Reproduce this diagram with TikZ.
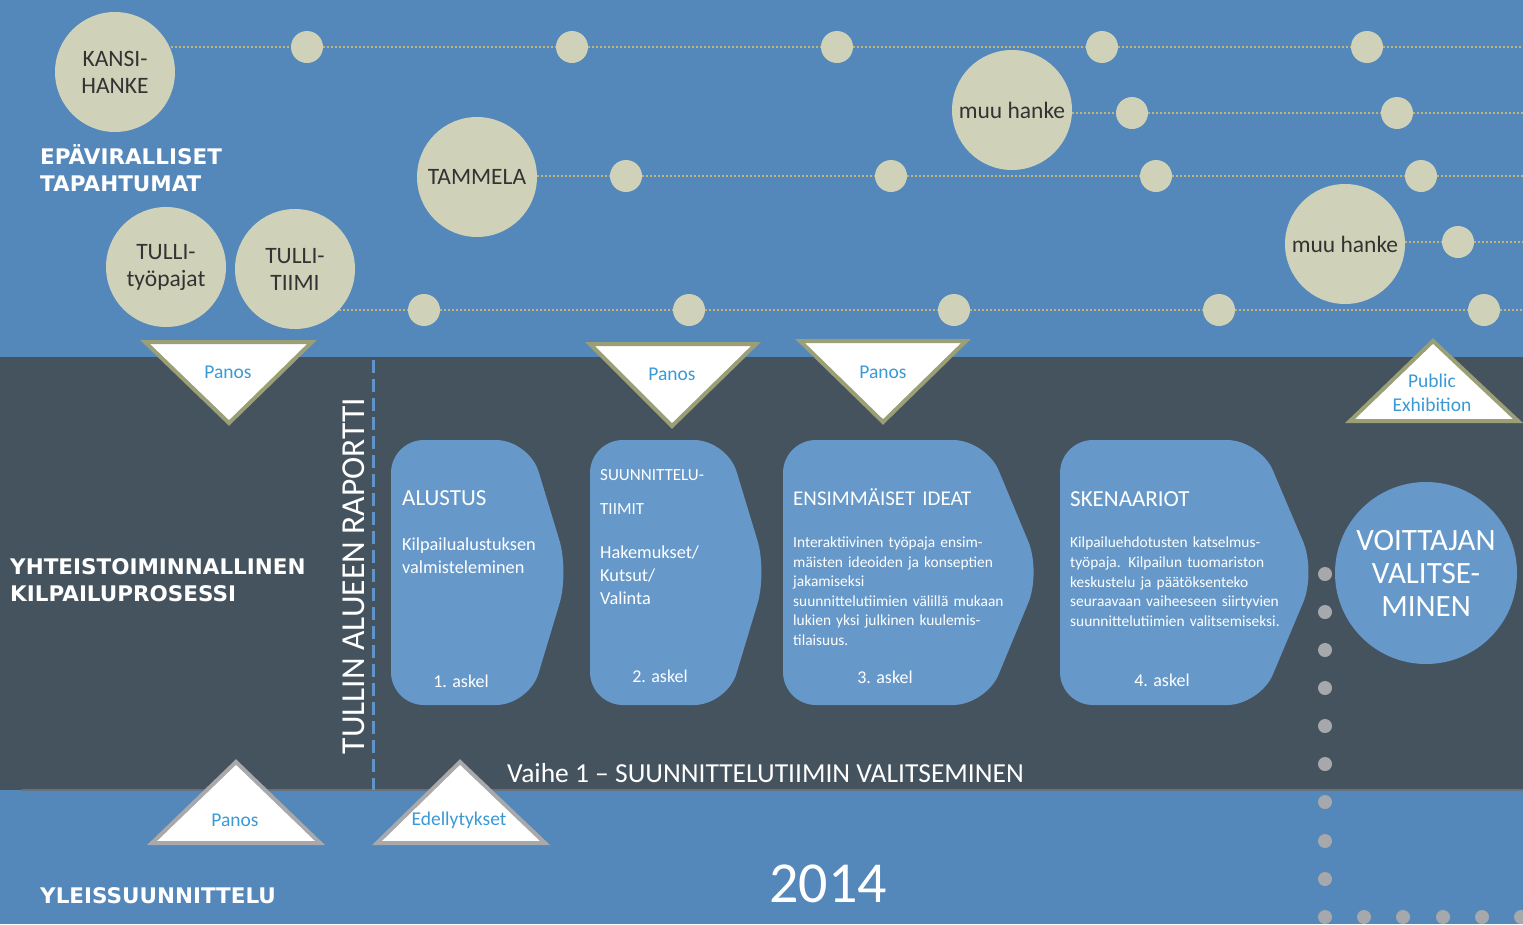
\documentclass[tikz,border=0pt]{standalone}
\usepackage{fontspec}
\setmainfont{Carlito}
\newfontfamily\headfont{DejaVu Sans}
\definecolor{skyblue}{HTML}{5487BA}
\definecolor{darkband}{HTML}{45535F}
\definecolor{bandline}{HTML}{66717B}
\definecolor{boxblue}{HTML}{6699CA}
\definecolor{beige}{HTML}{CFD1B8}
\definecolor{olive}{HTML}{9B9F76}
\definecolor{trigray}{HTML}{A9A9AC}
\definecolor{labelblue}{HTML}{3B9AD6}
\definecolor{dotgray}{HTML}{A6A8AC}
\definecolor{dotline}{HTML}{BFB577}
\definecolor{circtext}{HTML}{333333}
\definecolor{dashblue}{HTML}{5F93C9}
\newcommand\myfs[2]{\fontsize{#1}{#2}\selectfont}
\pgfdeclarelayer{bg}
\pgfdeclarelayer{lines}
\pgfsetlayers{bg,lines,main}
\tikzset{
  bigc/.style={circle, fill=beige, minimum size=120pt, inner sep=0pt, align=center, text=circtext, font=\myfs{23.5}{27}},
  smalldot/.style={circle, fill=beige, minimum size=32pt, inner sep=0pt},
  graydot/.style={circle, fill=dotgray, minimum size=14pt, inner sep=0pt},
  dotrow/.style={draw=dotline, line width=1.7pt, dash pattern=on 1.6pt off 2.4pt},
  tridown/.style={fill=white, draw=olive, line width=4pt, line join=miter},
  triup/.style={fill=white, draw=trigray, line width=4pt, line join=miter},
  trilabel/.style={text=labelblue, font=\myfs{19.5}{24}, align=center, inner sep=0pt},
  stepbox/.style={fill=boxblue, rounded corners=33pt},
  headlabel/.style={font=\headfont\bfseries\myfs{21.5}{27}, text=white, anchor=base west, align=left, text width=330pt, inner sep=0pt},
  boxhead/.style={text=white, anchor=base west, align=left, text width=240pt, inner sep=0pt},
  boxbody/.style={text=white, anchor=base west, align=left, text width=240pt, inner sep=0pt},
  stepno/.style={text=white, font=\myfs{18}{22}, inner sep=0pt},
}
\begin{document}
\begin{tikzpicture}[x=1pt,y=-1pt]
\useasboundingbox (0,0) rectangle (1523,924);
\begin{pgfonlayer}{bg}
  \fill[skyblue] (0,0) rectangle (1523,924);
  \fill[darkband] (0,357) rectangle (1523,790);
  \draw[bandline, line width=1.5pt] (22,790) -- (1523,790);
  \draw[dashblue, line width=3pt, dash pattern=on 13pt off 6pt] (373,360) -- (373,790);
\end{pgfonlayer}

% big circles
\node[bigc] (kansi) at (115,72) {KANSI-\\HANKE};
\node[bigc] (tammela) at (477,177) {TAMMELA};
\node[bigc] (tpajat) at (166,267) {TULLI-\\työpajat};
\node[bigc] (tiimi) at (295,269) {TULLI-\\TIIMI};
\node[bigc] (muua) at (1012,110) {muu hanke};
\node[bigc] (muub) at (1345,244) {muu hanke};

% small dots
\node[smalldot] (r1a) at (307,47) {};
\node[smalldot] (r1b) at (572,47) {};
\node[smalldot] (r1c) at (837,47) {};
\node[smalldot] (r1d) at (1102,47) {};
\node[smalldot] (r1e) at (1367,47) {};
\node[smalldot] (r2a) at (1132,113) {};
\node[smalldot] (r2b) at (1397,113) {};
\node[smalldot] (r3a) at (626,176) {};
\node[smalldot] (r3b) at (891,176) {};
\node[smalldot] (r3c) at (1156,176) {};
\node[smalldot] (r3d) at (1421,176) {};
\node[smalldot] (r4a) at (1458,242) {};
\node[smalldot] (r5a) at (424,310) {};
\node[smalldot] (r5b) at (689,310) {};
\node[smalldot] (r5c) at (954,310) {};
\node[smalldot] (r5d) at (1219,310) {};
\node[smalldot] (r5e) at (1484,310) {};

\coordinate (e1) at (1523,47);
\coordinate (e2) at (1523,113);
\coordinate (e3) at (1523,176);
\coordinate (e4) at (1523,242);
\coordinate (e5) at (1523,310);

\begin{pgfonlayer}{lines}
  \draw[dotrow] (kansi.center |- r1a) -- (r1a) -- (r1b) -- (r1c) -- (r1d) -- (r1e) -- (e1);
  \draw[dotrow] (muua.center |- r2a) -- (r2a) -- (r2b) -- (e2);
  \draw[dotrow] (tammela.center |- r3a) -- (r3a) -- (r3b) -- (r3c) -- (r3d) -- (e3);
  \draw[dotrow] (muub.center |- r4a) -- (r4a) -- (e4);
  \draw[dotrow] (tiimi.center |- r5a) -- (r5a) -- (r5b) -- (r5c) -- (r5d) -- (r5e) -- (e5);
\end{pgfonlayer}

% section labels
\node[headlabel] (epav) at (40,164.5) {EPÄVIRALLISET\\TAPAHTUMAT};
\node[headlabel] (yhteis) at (10,574.5) {YHTEISTOIMINNALLINEN\\KILPAILUPROSESSI};
\node[headlabel] (yleis) at (40,903.5) {YLEISSUUNNITTELU};

% triangles
\draw[tridown] (145,342) -- (312,342) -- (229,423) -- cycle;
\node[trilabel] (panosa) at (228,372) {Panos};
\draw[tridown] (590,344) -- (756,344) -- (672,426) -- cycle;
\node[trilabel] (panosb) at (672,374) {Panos};
\draw[tridown] (800,341) -- (966,341) -- (883,422) -- cycle;
\node[trilabel] (panosc) at (883,372) {Panos};
\draw[tridown] (1350,421) -- (1518,421) -- (1433,341) -- cycle;
\node[trilabel] (public) at (1432,393) {Public\\Exhibition};
\draw[triup] (152,843) -- (320,843) -- (236,762) -- cycle;
\node[trilabel] (panosd) at (235,820) {Panos};
\draw[triup] (377,843) -- (545,843) -- (460,762) -- cycle;
\node[trilabel] (edell) at (459,820) {Edellytykset};

% vertical report label
\node[text=white, font=\myfs{33.5}{36}, rotate=90, inner sep=0pt] (raportti) at (354,576) {TULLIN ALUEEN RAPORTTI};

% step boxes
\fill[stepbox] (391,440) -- (529,440) -- (569,572) -- (529,705) -- (391,705) -- cycle;
\fill[stepbox] (590,440) -- (727,440) -- (767,572) -- (727,705) -- (590,705) -- cycle;
\fill[stepbox] (783,440) -- (986,440) -- (1041,572) -- (986,705) -- (783,705) -- cycle;
\fill[stepbox] (1060,440) -- (1260,440) -- (1316,572) -- (1260,705) -- (1060,705) -- cycle;

\node[boxhead, font=\myfs{23}{27}] (h1) at (402,505.4) {ALUSTUS};
\node[boxbody, font=\myfs{18.3}{23}] (b1) at (402,550) {Kilpailualustuksen\\valmisteleminen};
\node[stepno] (s1) at (461,681) {1. askel};

\node[boxhead, font=\myfs{17}{34}] (h2) at (600,480.5) {SUUNNITTELU-\\TIIMIT};
\node[boxbody, font=\myfs{18.3}{23}] (b2) at (600,558) {Hakemukset/\\Kutsut/\\Valinta};
\node[stepno] (s2) at (660,676) {2. askel};

\node[boxhead, font=\myfs{21}{27}] (h3) at (793,505.8) {ENSIMMÄISET IDEAT};
\node[boxbody, font=\myfs{15.4}{19.6}] (b3) at (793,547.5) {Interaktiivinen työpaja ensim-\\mäisten ideoiden ja konseptien\\jakamiseksi\\suunnittelutiimien välillä mukaan\\lukien yksi julkinen kuulemis-\\tilaisuus.};
\node[stepno] (s3) at (885,677) {3. askel};

\node[boxhead, font=\myfs{23}{27}] (h4) at (1070,506) {SKENAARIOT};
\node[boxbody, font=\myfs{15.4}{19.75}] (b4) at (1070,547.5) {Kilpailuehdotusten katselmus-\\työpaja. Kilpailun tuomariston\\keskustelu ja päätöksenteko\\seuraavaan vaiheeseen siirtyvien\\suunnittelutiimien valitsemiseksi.};
\node[stepno] (s4) at (1162,680) {4. askel};

% winner circle
\node[circle, fill=boxblue, minimum size=182pt, inner sep=0pt, align=center, text=white, font=\myfs{31}{33}] (voitt) at (1426,573) {VOITTAJAN\\VALITSE-\\MINEN};

% gray dots
\foreach \yy [count=\i] in {574,612,650,688,726,764,802,841,879,917}
  \node[graydot] (gv\i) at (1325,\yy) {};
\foreach \xx [count=\i] in {1364,1403,1443,1482,1521}
  \node[graydot] (gh\i) at (\xx,917) {};

% phase label and year
\node[text=white, font=\myfs{27.5}{30}, anchor=base west, inner sep=0pt] (vaihe) at (507,782) {Vaihe 1 – SUUNNITTELUTIIMIN VALITSEMINEN};
\node[text=white, font=\myfs{58}{60}, inner sep=0pt] (year) at (828,884) {2014};
\end{tikzpicture}
\end{document}
